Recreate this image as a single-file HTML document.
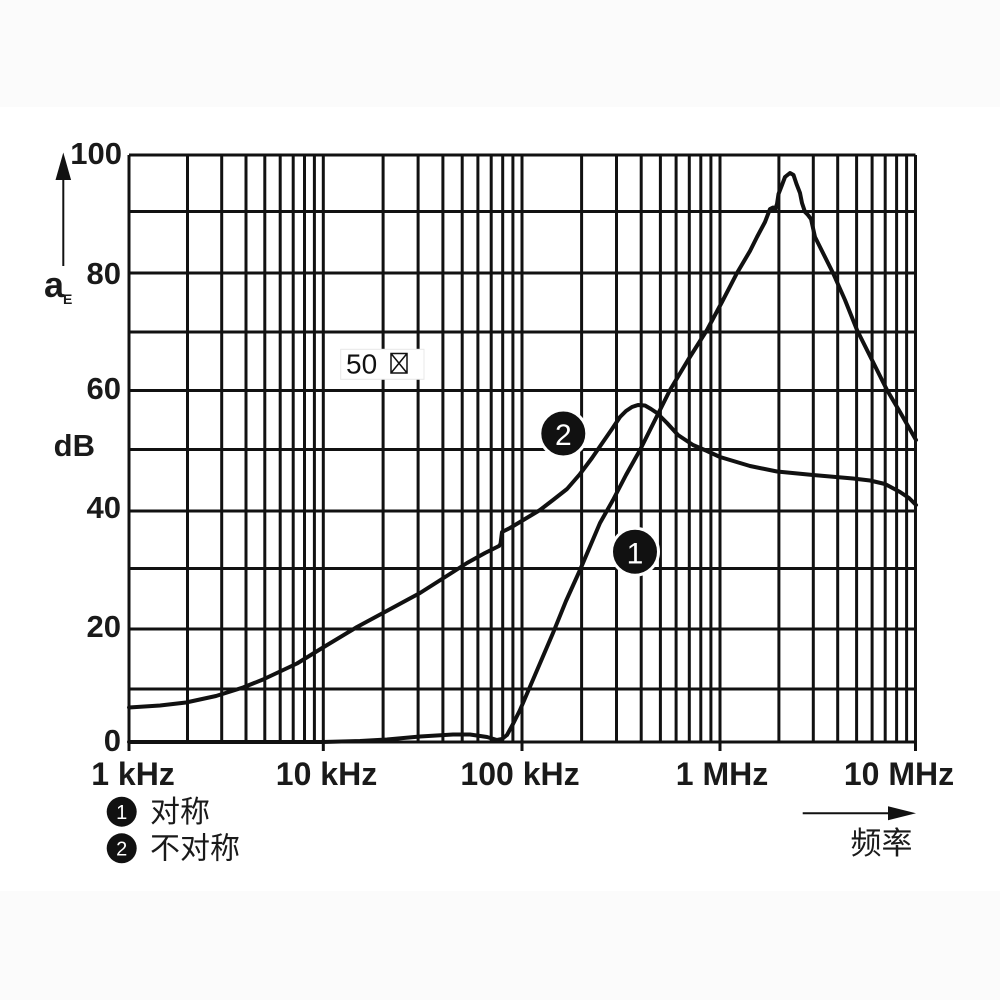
<!DOCTYPE html>
<html><head><meta charset="utf-8"><style>
html,body{margin:0;padding:0;background:#fff;}
svg{display:block;}
</style></head><body>
<svg width="1000" height="1000" viewBox="0 0 1000 1000" xmlns="http://www.w3.org/2000/svg">
<rect x="0" y="0" width="1000" height="1000" fill="#ffffff"/>
<rect x="0" y="0" width="1000" height="107" fill="#fbfbfb"/>
<rect x="0" y="891" width="1000" height="109" fill="#fbfbfb"/>
<path stroke="#111" stroke-width="3" fill="none" d="M129 155H915.5M129 211.5H915.5M129 273H915.5M129 332H915.5M129 390.5H915.5M129 449.5H915.5M129 511H915.5M129 568.5H915.5M129 629H915.5M129 689H915.5M129 742H915.5
M129 155V751M323.3 155V751M522 155V751M720 155V751M915.5 155V751
M187.5 155V742M221.7 155V742M246 155V742M264.8 155V742M280.2 155V742M293.2 155V742M304.5 155V742M314.4 155V742
M383.1 155V742M418.1 155V742M442.9 155V742M462.2 155V742M477.9 155V742M491.2 155V742M502.7 155V742M512.9 155V742
M581.6 155V742M616.5 155V742M641.2 155V742M660.4 155V742M676.1 155V742M689.3 155V742M700.8 155V742M710.9 155V742
M778.9 155V742M813.3 155V742M837.7 155V742M856.6 155V742M872.1 155V742M885.2 155V742M896.6 155V742M906.6 155V742"/>
<rect x="340.7" y="349.3" width="83.3" height="30" fill="#ffffff" stroke="#e8e8e8" stroke-width="1"/>
<text x="346" y="373.3" font-family="Liberation Sans, sans-serif" font-size="28" fill="#111">50</text>
<path stroke="#111" stroke-width="1.5" fill="none" d="M391 353.5H407V373H391ZM391 353.5L407 373M407 353.5L391 373"/>
<g stroke="#111" stroke-width="4" fill="none" stroke-linejoin="round" stroke-linecap="round">
<polyline points="129,707.5 160,705.5 186,702.5 216,696 243,687.5 263,679.5 297,663.5 323,647.5 357,627 383,613 407,600 420,593 453,572 467,563 485,553 499,546 500.5,544 502,532 505,530.5 510,528 520,522 540,510 553,500 567,489 580,474 592,458 603,442 612,429 620,417 626,411 632,407 638,405 645,405.5 651,409 657,413 667,423 678,435 693,445 707,451 720,457 750,466 777,471.5 813,475 853,478.5 870,480.5 885,484 900,492 909,498 916,505"/>
<polyline points="129,742 323,742 360,741 387,739.5 420,736.5 453,734.5 470,734.5 487,737 497,740 502,739 507,735 513,724 520,710 535,675 553,633 566,601 580,570 600,523 613,500 626,475 640,450 660,410 670,390 688,360 707,330 722,302 737,273 750,251 757,237 765,222 770,209 773,207.5 775,209.5 777,204 778.5,194 782,185 785,177 790,173 793.5,175 796.5,184 800,193 802,203 805,212 808,215 811,219 815,237 833,273 845,300 857,330 872,360 887,390 900,412 916,440"/>
</g>
<circle cx="563.3" cy="433.5" r="23.5" fill="#111" stroke="#fff" stroke-width="3"/>
<text x="563.3" y="445" text-anchor="middle" font-family="Liberation Sans, sans-serif" font-size="30" fill="#fff">2</text>
<circle cx="635" cy="551.7" r="23.5" fill="#111" stroke="#fff" stroke-width="3"/>
<text x="635" y="563.5" text-anchor="middle" font-family="Liberation Sans, sans-serif" font-size="30" fill="#fff">1</text>
<g font-family="Liberation Sans, sans-serif" font-weight="bold" font-size="31" fill="#1a1a1a" text-anchor="end">
<text x="122" y="164">100</text>
<text x="121" y="284">80</text>
<text x="121" y="399">60</text>
<text x="121" y="518">40</text>
<text x="121" y="637">20</text>
<text x="121" y="751">0</text>
<text x="95" y="456">dB</text>
</g>
<text x="44" y="297" font-family="Liberation Sans, sans-serif" font-weight="bold" font-size="36" fill="#1a1a1a">a</text>
<text x="63" y="304" font-family="Liberation Sans, sans-serif" font-weight="bold" font-size="14" fill="#1a1a1a">E</text>
<path d="M63.3 266V176" stroke="#111" stroke-width="2"/>
<polygon points="63.3,152.5 55.5,180 71.1,180" fill="#111"/>
<g font-family="Liberation Sans, sans-serif" font-weight="bold" font-size="32" fill="#1a1a1a" text-anchor="middle">
<text x="133" y="785">1 kHz</text>
<text x="326.5" y="785">10 kHz</text>
<text x="520" y="785">100 kHz</text>
<text x="722" y="785">1 MHz</text>
<text x="899" y="785">10 MHz</text>
</g>
<path d="M802.7 813.3H892" stroke="#111" stroke-width="2"/>
<polygon points="916,813.3 888,806.3 888,820.3" fill="#111"/>
<text x="881.5" y="854" text-anchor="middle" font-family="Liberation Sans, 'Noto Sans CJK SC', sans-serif" font-size="31" fill="#1a1a1a">频率</text>
<circle cx="121.7" cy="811.7" r="15" fill="#111"/>
<text x="121.7" y="819" text-anchor="middle" font-family="Liberation Sans, sans-serif" font-size="20" fill="#fff">1</text>
<circle cx="121.7" cy="848.3" r="15" fill="#111"/>
<text x="121.7" y="855.6" text-anchor="middle" font-family="Liberation Sans, sans-serif" font-size="20" fill="#fff">2</text>
<text x="150" y="822" font-family="Liberation Sans, 'Noto Sans CJK SC', sans-serif" font-size="30" fill="#1a1a1a">对称</text>
<text x="150" y="858.5" font-family="Liberation Sans, 'Noto Sans CJK SC', sans-serif" font-size="30" fill="#1a1a1a">不对称</text>
</svg>
</body></html>
